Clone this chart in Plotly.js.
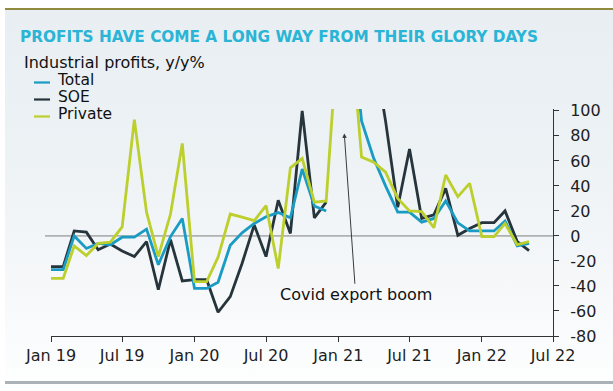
<!DOCTYPE html>
<html>
<head>
<meta charset="utf-8">
<script src="https://cdn.plot.ly/plotly-3.0.1.min.js"></script>
<style>
  html, body { margin: 0; padding: 0; background: #ffffff; }
  #wrap { position: relative; width: 613px; height: 391px; overflow: hidden; background: #ffffff; }
  #panel { position: absolute; left: 5px; top: 9px; width: 608px; height: 372px;
           background: linear-gradient(to bottom, #e8eef2 0%, #edf2f5 40%, #f6f8fa 75%, #fdfefe 100%); }
  #topline { position: absolute; left: 5px; top: 8px; width: 608px; height: 2px; background: #8f8c3f; }
  #botline { position: absolute; left: 5px; top: 381px; width: 608px; height: 3px; background: #aab1b7; }
  #chart { position: absolute; left: 0; top: 0; width: 613px; height: 391px; }
</style>
</head>
<body>
<div id="wrap">
  <div id="panel"></div>
  <div id="topline"></div>
  <div id="botline"></div>
  <div id="chart"></div>
</div>
<script>
// ---- data (monthly, Jan 2019 - May 2022), y/y % ----
const dates = [
  '2019-01-01','2019-02-01','2019-03-01','2019-04-01','2019-05-01','2019-06-01',
  '2019-07-01','2019-08-01','2019-09-01','2019-10-01','2019-11-01','2019-12-01',
  '2020-01-01','2020-02-01','2020-03-01','2020-04-01','2020-05-01','2020-06-01',
  '2020-07-01','2020-08-01','2020-09-01','2020-10-01','2020-11-01','2020-12-01',
  '2021-01-01','2021-02-01','2021-03-01','2021-04-01','2021-05-01','2021-06-01',
  '2021-07-01','2021-08-01','2021-09-01','2021-10-01','2021-11-01','2021-12-01',
  '2022-01-01','2022-02-01','2022-03-01','2022-04-01','2022-05-01'
];
const totalProfits = [
  -27, -27, 0, -10, -6, -7, -1, -1, 5.5, -23, -0.5, 14,
  -42, -42, -37, -7.5, 2.5, 10, 15.4, 18.7, 14.5, 53.5, 24, 20,
  null, 178, 92, 62, 40, 19, 19, 11, 14, 28, 10.5, 4,
  4, 4, 12, -8, -6
];
const soeProfits = [
  -24.5, -24.5, 4, 3, -11, -6.5, -12, -16.5, -4.5, -43, -3, -36,
  -35, -35, -61, -48.5, -22, 8.8, -16.5, 28.5, 2, 100, 14.5, 27,
  null, 200, 180, 150, 92, 23, 69.5, 14, 16.8, 38, 0.5, 6,
  10.6, 10.6, 20, -4.5, -11.7
];
const privateProfits = [
  -34, -34, -8, -15.7, -6, -5, 7.2, 93, 19, -16.5, 17.5, 74,
  -36.5, -36.5, -17, 17.5, 15, 12.2, 24.3, -26, 54.5, 62, 27, 28,
  168, 168, 63, 59, 51, 30, 20, 19.4, 6.6, 48.7, 31.4, 42,
  -0.5, -0.5, 10, -7, -4.5
];
const seriesNames = ['Total', 'SOE', 'Private'];
const seriesColors = ['#1a9bc3', '#26343c', '#bccf2c'];
const xTickVals = ['2019-01-01','2019-07-01','2020-01-01','2020-07-01','2021-01-01','2021-07-01','2022-01-01','2022-07-01'];
const xTickText = ['Jan 19','Jul 19','Jan 20','Jul 20','Jan 21','Jul 21','Jan 22','Jul 22'];
const yTickVals = [-80, -60, -40, -20, 0, 20, 40, 60, 80, 100];
const yTickText = ['-80', '-60', '-40', '-20', '0', '20', '40', '60', '80', '100'];
const titleText = 'PROFITS HAVE COME A LONG WAY FROM THEIR GLORY DAYS';
const subtitleText = 'Industrial profits, y/y%';
const noteText = 'Covid export boom';

// ---- layout geometry ----
const W = 613, H = 391;
const ML = 51, MR = 60, MT = 109, MB = 55;
const PW = W - ML - MR, PH = H - MT - MB;
const px = X => (X - ML) / PW;
const py = Y => (MT + PH - Y) / PH;
const FONT = 'DejaVu Sans';
const TXT = '#111111';

const allSeries = [totalProfits, soeProfits, privateProfits];
// draw order: SOE first, then Total, then Private on top
const order = [1, 0, 2];
const traces = order.map(i => ({
  type: 'scatter', mode: 'lines',
  x: dates, y: allSeries[i], name: seriesNames[i],
  line: { color: seriesColors[i], width: 2.8 },
  connectgaps: false, hoverinfo: 'skip', showlegend: false
}));

const legendY = [80.5, 97.5, 114.5];
const shapes = [
  { type: 'line', xref: 'paper', yref: 'y', x0: px(45), x1: 1, y0: 0, y1: 0,
    line: { color: '#7d7d7d', width: 1 }, layer: 'below' }
];
seriesNames.forEach((n, i) => {
  shapes.push({ type: 'line', xref: 'paper', yref: 'paper',
    x0: px(34), x1: px(50), y0: py(legendY[i] + 2), y1: py(legendY[i] + 2),
    line: { color: seriesColors[i], width: 2.2 } });
});
// legend labels as one block: base size 13 gives a 17px line pitch
const legendText = seriesNames.map(n => '<span style="font-size:15.5px">' + n + '</span>').join('<br>');

const annotations = [
  { text: subtitleText, xref: 'paper', yref: 'paper', x: px(23), y: py(63),
    xanchor: 'left', yanchor: 'middle', showarrow: false, borderpad: 0,
    font: { family: FONT, size: 16, color: TXT } },
  { text: legendText, xref: 'paper', yref: 'paper', x: px(56), y: py(legendY[1]),
    xanchor: 'left', yanchor: 'middle', align: 'left', showarrow: false, borderpad: 0,
    font: { family: FONT, size: 13, color: TXT } },
  { text: noteText, xref: 'x', yref: 'y', x: '2021-01-16', y: 82,
    axref: 'x', ayref: 'y', ax: '2021-02-14', ay: -47,
    showarrow: true, arrowhead: 2, arrowsize: 0.9, arrowwidth: 1, arrowcolor: '#3a3a3a',
    standoff: 0, startstandoff: 0,
    font: { family: FONT, size: 16, color: TXT } }
];

const layout = {
  width: W, height: H,
  margin: { l: ML, r: MR, t: MT, b: MB, pad: 0 },
  paper_bgcolor: 'rgba(0,0,0,0)', plot_bgcolor: 'rgba(0,0,0,0)',
  showlegend: false,
  title: { text: titleText, xref: 'container', yref: 'container',
    x: 20 / W, xanchor: 'left', y: 1 - 37 / H, yanchor: 'middle',
    font: { family: FONT, size: 15.3, weight: 'bold', color: '#2ab4d5' } },
  xaxis: {
    type: 'date', range: ['2019-01-01', '2022-07-01'],
    tickmode: 'array', tickvals: xTickVals, ticktext: xTickText,
    ticks: 'outside', ticklen: 5, tickwidth: 1, tickcolor: '#333333',
    showline: true, linecolor: '#333333', linewidth: 1,
    showgrid: false, zeroline: false,
    tickfont: { family: FONT, size: 16, color: '#1e1e1e' }
  },
  yaxis: {
    side: 'right', range: [-80, 101.5],
    tickmode: 'array', tickvals: yTickVals, ticktext: yTickText,
    ticks: 'outside', ticklen: 5, tickwidth: 1, tickcolor: '#333333',
    ticklabelstandoff: 8,
    showline: true, linecolor: '#333333', linewidth: 1,
    showgrid: false, zeroline: false,
    tickfont: { family: FONT, size: 16, color: '#1e1e1e' }
  },
  shapes: shapes,
  annotations: annotations
};

Plotly.newPlot('chart', traces, layout, { displayModeBar: false, staticPlot: true });
</script>
</body>
</html>
